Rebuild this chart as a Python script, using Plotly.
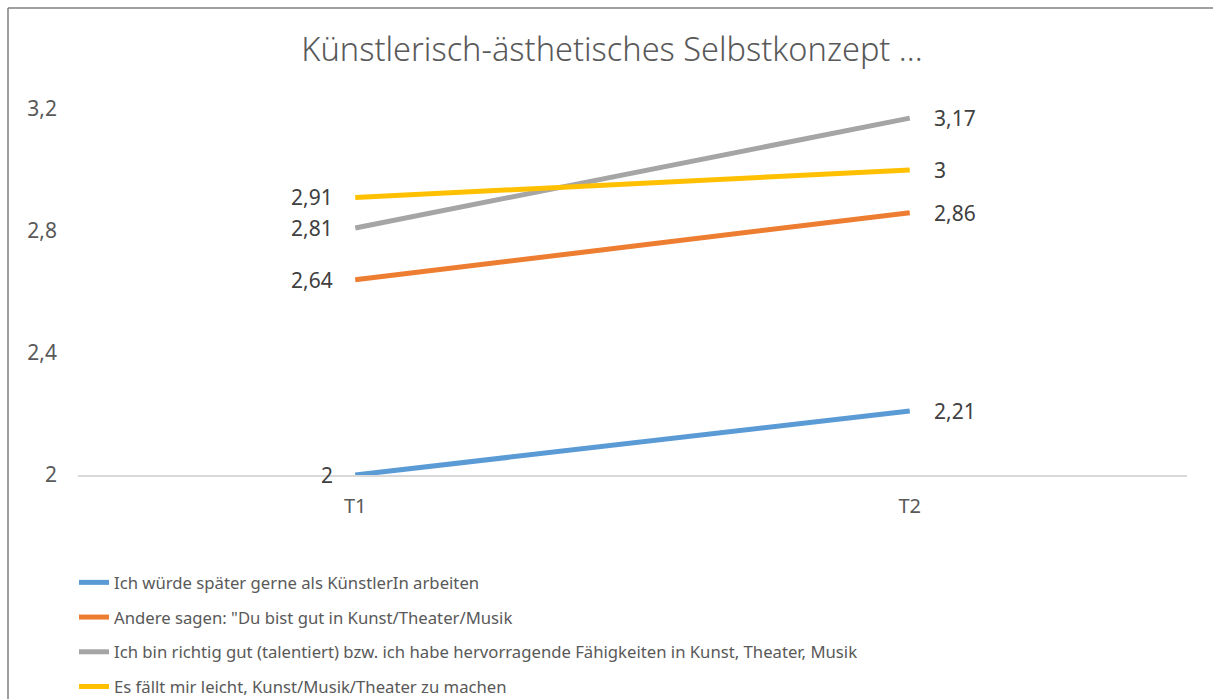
import plotly.graph_objects as go

categories = ["T1", "T2"]
series_names = [
    "Ich würde später gerne als KünstlerIn arbeiten",
    "Andere sagen: \"Du bist gut in Kunst/Theater/Musik",
    "Ich bin richtig gut (talentiert) bzw. ich habe hervorragende Fähigkeiten in Kunst, Theater, Musik",
    "Es fällt mir leicht, Kunst/Musik/Theater zu machen",
]
s_blue = [2.00, 2.21]
s_orange = [2.64, 2.86]
s_gray = [2.81, 3.17]
s_yellow = [2.91, 3.00]
y_ticks = [2.0, 2.4, 2.8, 3.2]

series_values = [s_blue, s_orange, s_gray, s_yellow]
colors = ["#5B9BD5", "#ED7D31", "#A5A5A5", "#FFC000"]

W, H = 1214, 699
ml, mr, mt, mb = 78, 27, 109, 224
PW, PH = W - ml - mr, H - mt - mb

def fmt(v):
    s = f"{v:.2f}".rstrip("0").rstrip(".")
    return s.replace(".", ",")

fig = go.Figure()
annotations = []
for i, (name, vals, col) in enumerate(zip(series_names, series_values, colors)):
    fig.add_trace(go.Scatter(
        x=categories, y=vals, mode="lines", name=name,
        line=dict(color=col, width=5), legendgroup=f"g{i}",
        hoverinfo="skip",
    ))
    for j, (c, v) in enumerate(zip(categories, vals)):
        annotations.append(dict(
            x=c, y=v, xref="x", yref="y", text=fmt(v), showarrow=False,
            xanchor="right" if j == 0 else "left", yanchor="middle",
            xshift=-20 if j == 0 else 22,
            font=dict(family="Noto Sans", size=21, color="#404040"),
        ))

fig.update_layout(
    width=W, height=H,
    margin=dict(l=ml, r=mr, t=mt, b=mb, autoexpand=False),
    paper_bgcolor="white", plot_bgcolor="white",
    title=dict(
        text="Künstlerisch-ästhetisches Selbstkonzept ...",
        x=612 / W, xanchor="center", y=1 - 50 / H, yanchor="middle",
        xref="container", yref="container",
        font=dict(family="Noto Sans", size=32.5, color="#595959", weight=300),
    ),
    xaxis=dict(
        type="category", range=[-0.5, 1.5], showgrid=False,
        showline=True, linecolor="#d9d9d9", linewidth=1.5,
        ticks="", zeroline=False,
        tickfont=dict(family="Noto Sans", size=20, color="#595959"),
        ticklabelstandoff=12,
    ),
    yaxis=dict(
        range=[2, 3.2], tickvals=y_ticks,
        ticktext=[fmt(t) for t in y_ticks],
        showgrid=False, showline=False, zeroline=False, ticks="",
        tickfont=dict(family="Noto Sans", size=21, color="#595959"),
        ticklabelstandoff=20,
    ),
    showlegend=True,
    legend=dict(
        x=(74 - ml) / PW, y=-(565 - mt - PH) / PH, xanchor="left", yanchor="top",
        orientation="v", tracegroupgap=10,
        font=dict(family="Noto Sans", size=16.7, color="#595959"),
        bgcolor="rgba(0,0,0,0)",
    ),
    annotations=annotations,
    shapes=[
        dict(type="line", xref="paper", yref="paper",
             x0=(8 - ml) / PW, x1=(W - 1 - ml) / PW,
             y0=1 + (mt - 8) / PH, y1=1 + (mt - 8) / PH,
             line=dict(color="#808080", width=1.5)),
        dict(type="line", xref="paper", yref="paper",
             x0=(8 - ml) / PW, x1=(8 - ml) / PW,
             y0=1 + (mt - 8) / PH, y1=-mb / PH,
             line=dict(color="#808080", width=1.5)),
    ],
)

fig.write_html("out.html")
